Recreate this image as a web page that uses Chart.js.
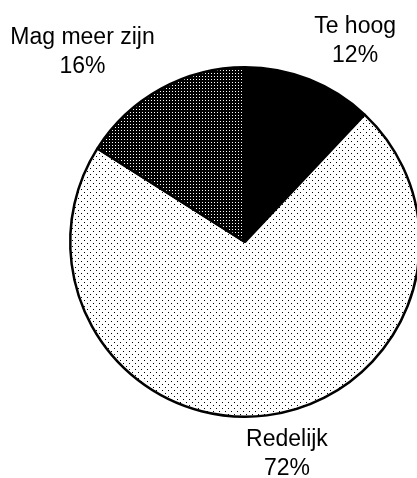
<!DOCTYPE html>
<html>
<head>
<meta charset="utf-8">
<script src="https://cdn.jsdelivr.net/npm/chart.js@4"></script>
<style>
  html, body { margin: 0; padding: 0; background: #fff; overflow: hidden; }
  #wrap { width: 417px; height: 478px; overflow: hidden; }
</style>
</head>
<body>
<div id="wrap"><canvas id="myChart" width="430" height="478"></canvas></div>
<script>
const labels = ['Te hoog', 'Redelijk', 'Mag meer zijn'];
const percentages = [12, 72, 16];

// tiled fills: solid, sparse dots, dense white-on-black dots
function makePattern(size, bg, fg, dots) {
	const c = document.createElement('canvas');
	c.width = size;
	c.height = size;
	const g = c.getContext('2d');
	g.fillStyle = bg;
	g.fillRect(0, 0, size, size);
	g.fillStyle = fg;
	dots.forEach(d => g.fillRect(d[0], d[1], 1, 1));
	return g.createPattern(c, 'repeat');
}

const ctx = document.getElementById('myChart').getContext('2d');
const fills = [
	'#000000',
	makePattern(6, '#ffffff', '#000000', [[0, 0], [3, 3]]),
	makePattern(3, '#000000', '#ffffff', [[1, 1]])
];

// label spots, as fractions of the radius from the pie centre
const labelSpots = [
	{ dx: 0.63, dy: -1.195 },
	{ dx: 0.24, dy: 1.165 },
	{ dx: -0.93, dy: -1.135 }
];

const pieLabels = {
	id: 'pieLabels',
	afterDraw(chart) {
		const meta = chart.getDatasetMeta(0);
		const c = chart.ctx;
		c.save();
		c.fillStyle = '#000';
		c.font = '23px "Liberation Sans", Arial, sans-serif';
		c.textAlign = 'center';
		c.textBaseline = 'alphabetic';
		meta.data.forEach((arc, i) => {
			const r = arc.outerRadius;
			const x = arc.x + labelSpots[i].dx * r;
			const y = arc.y + labelSpots[i].dy * r;
			c.fillText(labels[i], x, y);
			c.fillText(percentages[i] + '%', x, y + 29);
		});
		c.restore();
	}
};

const data = {
	labels: labels,
	datasets: [{
		data: percentages,
		backgroundColor: fills,
		borderColor: '#000000',
		borderWidth: 2.5
	}]
};

const config = {
	type: 'pie',
	data,
	options: {
		responsive: false,
		animation: false,
		layout: {
			padding: { left: 69, right: 9, top: 66, bottom: 60 }
		},
		plugins: {
			legend: { display: false },
			tooltip: { enabled: false }
		}
	},
	plugins: [pieLabels]
};

const myChart = new Chart(ctx, config);
</script>
</body>
</html>
